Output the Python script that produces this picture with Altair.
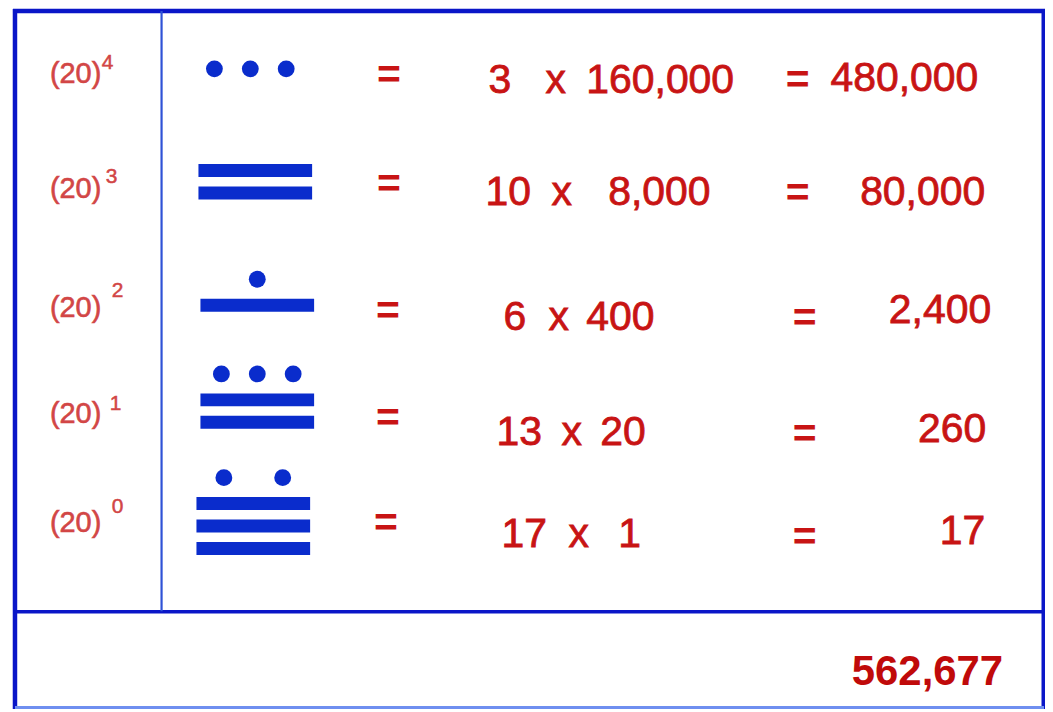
import altair as alt
import pandas as pd

# ---- data ----
exponents = [4, 3, 2, 1, 0]
dot_counts = [3, 0, 1, 3, 2]
bar_counts = [0, 2, 1, 2, 3]
multipliers = [3, 10, 6, 13, 17]
place_values = [160000, 8000, 400, 20, 1]
products = [480000, 80000, 2400, 260, 17]
total = [562677]

# ---- layout (pixel frame of the 1053x712 picture) ----
label_x = 50
label_base = [82, 198, 317, 423, 533]
sup_x = [102, 106, 112, 110, 112]
sup_base = [68, 182, 297, 410, 513]

glyph_top = [68, 170, 279, 374, 478]
glyph_cx = [251, 256, 258, 258, 254]
dot_spacing = {1: 0, 2: 59, 3: 36}
dot_to_bar = 26
bar_gap = 22.5
bar_half_w = 57
bar_h = 13

eq1_x = [378, 378, 377, 377, 375]
eq1_mid = [73, 183, 310, 417, 523]
mult_x = [490, 487, 505, 498, 503]
xs_x = [547, 553, 550, 563, 570]
place_x = [588, 610, 588, 602, 620]
expr_base = [92, 205, 330, 445, 548]
eq2_x = [788, 788, 795, 795, 795]
eq2_mid = [78, 192, 317, 433, 537]
prod_right = [981, 988, 994, 989, 988]
prod_base = [90, 205, 323, 442, 545]

BLUE_DARK = "#0a16c8"
BLUE_LINE = "#2f52d6"
GLYPH = "#0a2ccc"
RED = "#c81414"
RED_LIGHT = "#d24646"
FONT = "Liberation Sans"
FS = 41

W, H = 1040, 702
XS = alt.Scale(domain=[8, 8 + W], range=[0, W], zero=False, nice=False)
YS = alt.Scale(domain=[8, 8 + H], range=[0, H], zero=False, nice=False)


def X(f="x"):
    return alt.X(f"{f}:Q", scale=XS, axis=None)


def Y(f="y"):
    return alt.Y(f"{f}:Q", scale=YS, axis=None)


# frame lines
frame = pd.DataFrame([
    dict(x=13, x2=1048, y=10, y2=10, w=4.5, c="outer"),
    dict(x=15, x2=15, y=8, y2=710, w=4.5, c="outer"),
    dict(x=1046.5, x2=1046.5, y=8, y2=710, w=4, c="outer"),
    dict(x=15, x2=1047, y=708.5, y2=708.5, w=3, c="light"),
    dict(x=15, x2=1047, y=612.5, y2=612.5, w=3.5, c="outer"),
    dict(x=162, x2=162, y=10, y2=612, w=2.2, c="inner"),
])
frame_layer = alt.Chart(frame).mark_rule().encode(
    x=X(), x2="x2:Q", y=Y(), y2="y2:Q",
    strokeWidth=alt.StrokeWidth("w:Q", scale=None, legend=None),
    color=alt.Color("c:N", scale=alt.Scale(domain=["outer", "inner", "light"],
                                           range=[BLUE_DARK, BLUE_LINE, "#6f8ff0"]),
                    legend=None),
)

# glyph dots and bars
dots, bars = [], []
for i in range(5):
    n = dot_counts[i]
    y = glyph_top[i]
    if n:
        sp = dot_spacing[n]
        for k in range(n):
            dots.append(dict(x=glyph_cx[i] + (k - (n - 1) / 2) * sp, y=y))
        y += dot_to_bar
    for b in range(bar_counts[i]):
        yc = y + b * bar_gap
        bars.append(dict(x=glyph_cx[i] - bar_half_w, x2=glyph_cx[i] + bar_half_w,
                         y=yc - bar_h / 2, y2=yc + bar_h / 2))

dot_layer = alt.Chart(pd.DataFrame(dots)).mark_circle(size=285, opacity=1, color=GLYPH).encode(x=X(), y=Y())
bar_layer = alt.Chart(pd.DataFrame(bars)).mark_rect(color=GLYPH).encode(x=X(), x2="x2:Q", y=Y(), y2="y2:Q")

# power labels
lab = pd.DataFrame(dict(x=[label_x] * 5, y=label_base, t=["(20)"] * 5))
sup = pd.DataFrame(dict(x=sup_x, y=sup_base, t=[str(e) for e in exponents]))
lab_layer = alt.Chart(lab).mark_text(align="left", baseline="alphabetic", font=FONT, fontSize=29,
                                     color=RED_LIGHT, stroke=RED_LIGHT, strokeWidth=0.6
                                     ).encode(x=X(), y=Y(), text="t:N")
sup_layer = alt.Chart(sup).mark_text(align="left", baseline="alphabetic", font=FONT, fontSize=21,
                                     color=RED_LIGHT, stroke=RED_LIGHT, strokeWidth=0.5
                                     ).encode(x=X(), y=Y(), text="t:N")

# equals signs
eqs = pd.DataFrame(dict(x=eq1_x + eq2_x, y=[m + 14 for m in eq1_mid + eq2_mid], t=["="] * 10))
eq_layer = alt.Chart(eqs).mark_text(align="left", baseline="alphabetic", font=FONT, fontSize=FS,
                                    fontWeight="bold", color=RED).encode(x=X(), y=Y(), text="t:N")

# expressions
left_txt = pd.DataFrame(dict(
    x=mult_x + xs_x + place_x,
    y=expr_base * 3,
    t=[str(m) for m in multipliers] + ["x"] * 5 + [f"{p:,}" for p in place_values],
))
left_layer = alt.Chart(left_txt).mark_text(align="left", baseline="alphabetic", font=FONT, fontSize=FS,
                                           color=RED, stroke=RED, strokeWidth=0.8
                                           ).encode(x=X(), y=Y(), text="t:N")

prod = pd.DataFrame(dict(x=prod_right, y=prod_base, t=[f"{p:,}" for p in products]))
prod_layer = alt.Chart(prod).mark_text(align="right", baseline="alphabetic", font=FONT, fontSize=FS,
                                       color=RED, stroke=RED, strokeWidth=0.8
                                       ).encode(x=X(), y=Y(), text="t:N")

tot = pd.DataFrame(dict(x=[1006], y=[686], t=[f"{v:,}" for v in total]))
tot_layer = alt.Chart(tot).mark_text(align="right", baseline="alphabetic", font=FONT, fontSize=42,
                                     fontWeight="bold", color="#c00a0a").encode(x=X(), y=Y(), text="t:N")

chart = alt.layer(
    frame_layer, bar_layer, dot_layer, lab_layer, sup_layer, eq_layer, left_layer, prod_layer, tot_layer
).properties(
    width=W, height=H, padding=0,
    autosize=alt.AutoSizeParams(type="none"),
    background="white",
).configure_view(stroke=None)

chart.save("out.html", embed_options={"renderer": "svg", "actions": False})
